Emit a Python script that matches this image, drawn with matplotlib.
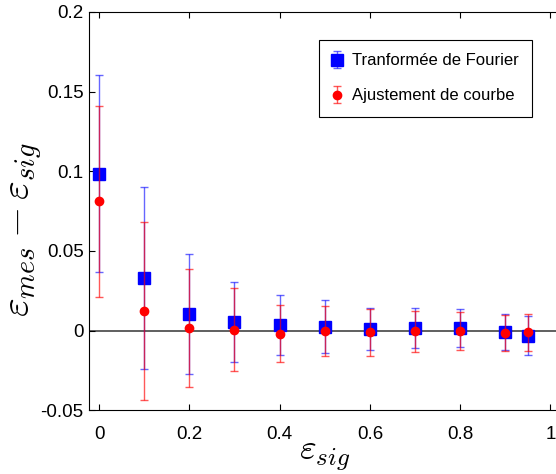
import matplotlib
matplotlib.use("Agg")
import matplotlib.pyplot as plt

plt.rcParams['font.family'] = ['Liberation Sans', 'DejaVu Sans']
plt.rcParams['mathtext.fontset'] = 'cm'

# data
eps_sig = [0, 0.1, 0.2, 0.3, 0.4, 0.5, 0.6, 0.7, 0.8, 0.9, 0.95]

fourier = [0.0986, 0.0331, 0.0103, 0.0053, 0.0034, 0.0025, 0.0011, 0.0017, 0.0017, -0.0008, -0.0032]
fourier_err = [0.062, 0.057, 0.0375, 0.025, 0.0187, 0.0166, 0.0133, 0.0123, 0.012, 0.0112, 0.0122]

courbe = [0.0812, 0.0124, 0.0017, 0.0006, -0.0019, -0.0004, -0.0010, -0.0004, -0.0002, -0.0013, -0.0010]
courbe_err = [0.060, 0.056, 0.037, 0.026, 0.018, 0.0158, 0.0147, 0.0127, 0.012, 0.0112, 0.0116]

xticks = [0, 0.2, 0.4, 0.6, 0.8, 1]
xtick_labels = ['0', '0.2', '0.4', '0.6', '0.8', '1']
yticks = [-0.05, 0, 0.05, 0.1, 0.15, 0.2]
ytick_labels = ['-0.05', '0', '0.05', '0.1', '0.15', '0.2']

fig = plt.figure(figsize=(5.56, 4.74), dpi=100)
ax = fig.add_axes([89.3/556, 1-410.3/474, 470.2/556, 398.3/474])

ax.axhline(0, color='#444444', lw=1.2, zorder=1)

ax.errorbar(eps_sig, fourier, yerr=fourier_err, fmt='s', color='#0000ff',
            ecolor=(0, 0, 1, 0.6), elinewidth=1, capsize=3, capthick=1,
            markersize=9, label='Tranformée de Fourier', zorder=2)
ax.errorbar(eps_sig, courbe, yerr=courbe_err, fmt='o', color='#ff0000',
            ecolor=(1, 0, 0, 0.65), elinewidth=1, capsize=3, capthick=1,
            markersize=6, label='Ajustement de courbe', zorder=3)

ax.set_xlim(-0.0215, 1.02)
ax.set_ylim(-0.05, 0.2)
ax.set_xticks(xticks)
ax.set_xticklabels(xtick_labels)
ax.set_yticks(yticks)
ax.set_yticklabels(ytick_labels)
ax.tick_params(direction='in', length=4, labelsize=13.5, top=True, right=False)
ax.tick_params(axis='x', pad=11)
ax.tick_params(axis='y', pad=4)

ax.set_xlabel(r'$\varepsilon_{sig}$', fontsize=26, labelpad=-3)
ax.set_ylabel(r'$\varepsilon_{mes} - \varepsilon_{sig}$', fontsize=29)
ax.yaxis.set_label_coords(-0.095, 0.455)

leg = ax.legend(loc='upper right', bbox_to_anchor=(532/556, 1-40/474),
                bbox_transform=fig.transFigure, borderaxespad=0, fontsize=12,
                fancybox=False, edgecolor='black', framealpha=1,
                handletextpad=0.6, handlelength=0.6, borderpad=0.8,
                labelspacing=1.2)
leg.get_frame().set_linewidth(0.8)

fig.savefig('out.png', dpi=100)
